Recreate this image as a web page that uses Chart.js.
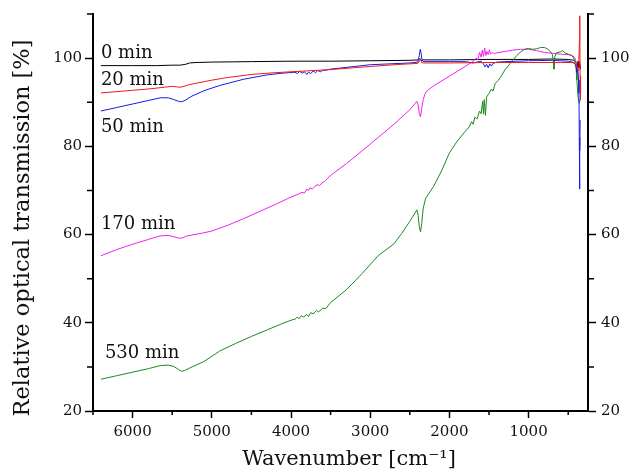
<!DOCTYPE html>
<html>
<head>
<meta charset="utf-8">
<script src="https://cdn.jsdelivr.net/npm/chart.js@4"></script>
<style>
  body { margin: 0; background: #fff; }
  canvas { display: block; }
</style>
</head>
<body>
<canvas id="myChart" width="630" height="472"></canvas>
<script>

// spectra: wavenumber [cm-1] and transmission [%] for each exposure time

const wn0 = [6400, 6000, 5700, 5500, 5400, 5330, 5280, 5200, 5000, 4500, 4000, 3500, 3000, 2500, 2390, 2370, 2355, 2340, 2000, 1500, 1000, 700, 500, 430, 400, 385, 375, 365, 355, 345];
const t0 = [98.3, 98.3, 98.3, 98.4, 98.4, 98.6, 98.9, 99.0, 99.1, 99.2, 99.3, 99.3, 99.4, 99.5, 99.6, 99.9, 99.4, 99.6, 99.6, 99.7, 99.7, 99.8, 99.7, 99.5, 99.0, 98.2, 99.3, 97.8, 98.8, 97.5];

const wn20 = [6400, 6200, 6000, 5800, 5600, 5500, 5450, 5400, 5350, 5300, 5200, 5000, 4800, 4500, 4200, 4000, 3800, 3500, 3000, 2700, 2400, 2375, 2365, 2350, 2330, 2000, 1500, 1000, 600, 450, 410, 390, 375, 365, 358, 354, 350, 346, 342];
const t20 = [92.1, 92.4, 92.7, 93.0, 93.4, 93.6, 93.5, 93.4, 93.6, 93.9, 94.3, 95.0, 95.6, 96.3, 96.7, 96.9, 97.1, 97.4, 98.1, 98.5, 98.8, 99.4, 99.8, 99.0, 98.9, 98.9, 99.0, 99.0, 99.0, 99.0, 98.7, 98.0, 97.2, 99.5, 104.0, 109.6, 96.0, 90.5, 92.5];

const wn50 = [6400, 6200, 6000, 5800, 5650, 5550, 5480, 5420, 5380, 5330, 5250, 5100, 4900, 4600, 4300, 4100, 3950, 3920, 3890, 3860, 3830, 3800, 3780, 3750, 3720, 3690, 3660, 3630, 3600, 3550, 3500, 3000, 2500, 2400, 2380, 2368, 2358, 2345, 2330, 2000, 1800, 1700, 1650, 1600, 1570, 1550, 1530, 1510, 1490, 1470, 1450, 1400, 1300, 1000, 700, 500, 430, 400, 390, 380, 370, 364, 360, 357, 355, 352, 349];
const t50 = [88.0, 88.8, 89.6, 90.4, 91.0, 91.0, 90.6, 90.2, 90.1, 90.5, 91.4, 92.6, 93.8, 95.2, 96.2, 96.6, 96.8, 96.5, 97.0, 96.6, 96.9, 96.3, 96.8, 96.5, 97.1, 96.7, 97.2, 96.9, 97.2, 97.3, 97.5, 98.5, 98.9, 99.1, 100.6, 102.0, 101.2, 99.6, 99.2, 99.2, 99.2, 98.9, 99.1, 99.3, 98.7, 98.0, 98.6, 97.8, 98.7, 98.2, 98.8, 99.1, 99.2, 99.4, 99.5, 99.3, 99.0, 98.3, 96.8, 97.5, 95.0, 92.0, 82.0, 74.0, 70.3, 79.0, 86.0];

const wn170 = [6400, 6200, 6000, 5800, 5650, 5550, 5480, 5420, 5370, 5330, 5250, 5100, 5000, 4800, 4600, 4400, 4200, 4000, 3900, 3860, 3830, 3800, 3780, 3760, 3730, 3700, 3670, 3640, 3610, 3580, 3500, 3300, 3100, 2900, 2700, 2500, 2410, 2395, 2380, 2365, 2350, 2330, 2310, 2290, 2200, 2000, 1900, 1800, 1700, 1660, 1640, 1620, 1600, 1585, 1570, 1555, 1540, 1525, 1510, 1495, 1480, 1460, 1430, 1400, 1300, 1200, 1100, 1000, 900, 800, 700, 600, 500, 450, 420, 400, 385, 370, 360, 350];
const t170 = [55.2, 56.6, 57.8, 58.9, 59.7, 59.8, 59.5, 59.2, 59.2, 59.6, 59.9, 60.4, 60.8, 62.1, 63.6, 65.2, 66.8, 68.5, 69.2, 69.6, 69.4, 70.3, 70.0, 70.6, 70.3, 70.9, 71.3, 71.1, 71.7, 72.0, 73.4, 76.1, 79.0, 82.0, 85.0, 88.3, 90.2, 89.4, 87.4, 86.7, 88.6, 90.6, 91.8, 92.5, 93.7, 95.9, 97.0, 98.1, 99.3, 100.0, 99.6, 101.3, 100.2, 101.8, 100.4, 102.3, 100.6, 101.5, 100.8, 101.9, 100.9, 101.3, 101.0, 101.2, 101.5, 101.8, 102.0, 102.0, 101.7, 101.3, 101.1, 100.9, 100.8, 100.6, 100.2, 99.2, 97.5, 95.5, 94.0, 93.0];

const wn530 = [6400, 6200, 6000, 5800, 5650, 5550, 5480, 5420, 5380, 5340, 5250, 5100, 4900, 4700, 4500, 4300, 4100, 3980, 3950, 3920, 3900, 3870, 3840, 3800, 3780, 3750, 3720, 3680, 3650, 3600, 3560, 3500, 3300, 3100, 2900, 2700, 2600, 2500, 2410, 2395, 2380, 2365, 2350, 2330, 2300, 2200, 2100, 2000, 1900, 1800, 1750, 1720, 1700, 1680, 1650, 1620, 1600, 1580, 1570, 1560, 1545, 1530, 1500, 1470, 1450, 1420, 1380, 1350, 1300, 1250, 1200, 1150, 1100, 1050, 1000, 950, 900, 850, 800, 760, 720, 700, 690, 680, 670, 650, 600, 570, 540, 500, 460, 440, 420, 400, 390, 380, 370, 360, 350];
const t530 = [27.2, 28.0, 28.8, 29.6, 30.3, 30.4, 30.1, 29.4, 29.0, 29.2, 30.0, 31.2, 33.6, 35.3, 36.9, 38.4, 39.9, 40.7, 40.8, 41.3, 40.9, 41.6, 41.3, 41.9, 41.4, 42.3, 42.0, 42.8, 42.5, 43.3, 43.2, 44.6, 47.5, 51.2, 55.2, 57.9, 60.3, 63.0, 65.6, 64.4, 61.8, 60.6, 62.5, 66.0, 68.2, 70.9, 74.4, 78.5, 81.2, 83.4, 84.4, 85.6, 85.0, 86.6, 86.2, 88.0, 87.4, 90.2, 87.3, 90.6, 87.0, 91.2, 92.0, 93.0, 92.5, 94.3, 95.0, 95.8, 97.3, 98.4, 99.5, 100.6, 101.4, 102.0, 102.2, 102.0, 102.1, 102.4, 102.4, 102.1, 101.4, 100.8, 99.5, 97.5, 100.3, 101.2, 101.4, 101.7, 101.2, 100.9, 100.6, 100.3, 99.5, 97.5, 95.0, 92.0, 90.5, 89.8, 90.5];

// tick values
const xTicks = [6000, 5000, 4000, 3000, 2000, 1000];
const xMinor = [6500, 5500, 4500, 3500, 2500, 1500, 500];
const yTicks = [20, 40, 60, 80, 100];
const yMinor = [30, 50, 70, 90, 110];

// curve labels: text, wavenumber, transmission at baseline
const labelText = ['0 min', '20 min', '50 min', '170 min', '530 min'];
const labelWn = [6400, 6400, 6400, 6400, 6350];
const labelT = [100.0, 94.0, 83.3, 61.3, 32.0];

const serif = "'DejaVu Serif', 'Liberation Serif', serif";

function pts(xs, ys) {
    return xs.map((x, i) => ({ x: x, y: ys[i] }));
}

// minor ticks and text drawn on top of the chart
const extras = {
    id: 'extras',
    afterDraw(chart) {
        const c = chart.ctx;
        const { x, y, y2 } = chart.scales;
        c.save();
        c.strokeStyle = '#000';
        c.lineWidth = 1.5;
        c.beginPath();
        for (let v of xMinor) {
            let px = x.getPixelForValue(v);
            c.moveTo(px, x.top);
            c.lineTo(px, x.top + 4);
        }
        for (let v of yMinor) {
            let py = y.getPixelForValue(v);
            c.moveTo(y.right, py);
            c.lineTo(y.right - 6, py);
            c.moveTo(y2.left, py);
            c.lineTo(y2.left + 6, py);
        }
        c.stroke();

        c.fillStyle = '#111';
        c.font = '18px ' + serif;
        c.textAlign = 'left';
        c.textBaseline = 'alphabetic';
        labelText.forEach((t, i) => {
            c.fillText(t, x.getPixelForValue(labelWn[i]), y.getPixelForValue(labelT[i]));
        });

        // axis titles
        c.textAlign = 'center';
        c.font = '21px ' + serif;
        c.fillText('Wavenumber [cm\u207B\u00B9]', 349, 465);
        c.font = '22.5px ' + serif;
        c.translate(29, 228);
        c.rotate(-Math.PI / 2);
        c.fillText('Relative optical transmission [%]', 0, 0);
        c.restore();
    }
};

const tickFont = { family: serif, size: 15 };

function yAxis(pos, width, pad) {
    return {
        type: 'linear',
        position: pos,
        min: 20,
        max: 110,
        afterBuildTicks: s => { s.ticks = yTicks.map(v => ({ value: v })); },
        afterFit: s => { s.width = width; },
        grid: { drawOnChartArea: false, tickLength: 8, tickWidth: 1.5, tickColor: '#000' },
        border: { color: '#000', width: 2 },
        ticks: { font: tickFont, color: '#111', padding: pad, callback: v => String(v) }
    };
}

new Chart(document.getElementById('myChart'), {
    type: 'line',
    data: {
        datasets: [
            { label: '20 min', data: pts(wn20, t20), borderColor: '#f01818' },
            { label: '50 min', data: pts(wn50, t50), borderColor: '#1818e8' },
            { label: '530 min', data: pts(wn530, t530), borderColor: '#1c8a1c' },
            { label: '170 min', data: pts(wn170, t170), borderColor: '#f020f0' },
            { label: '0 min', data: pts(wn0, t0), borderColor: '#000000' }
        ]
    },
    options: {
        responsive: false,
        animation: false,
        layout: { padding: { top: 12 } },
        elements: {
            point: { radius: 0 },
            line: { borderWidth: 1, tension: 0 }
        },
        plugins: {
            legend: { display: false },
            tooltip: { enabled: false }
        },
        scales: {
            x: {
                type: 'linear',
                reverse: true,
                min: 250,
                max: 6500,
                afterBuildTicks: s => { s.ticks = xTicks.map(v => ({ value: v })); },
                afterFit: s => { s.height = 61; },
                grid: { drawOnChartArea: false, tickLength: 7, tickWidth: 1.5, tickColor: '#000' },
                border: { color: '#000', width: 2 },
                ticks: { font: tickFont, color: '#111', padding: 5, maxRotation: 0, callback: v => String(v) }
            },
            y: yAxis('left', 93, 3),
            y2: yAxis('right', 42, 5)
        }
    },
    plugins: [extras]
});

</script>
</body>
</html>
